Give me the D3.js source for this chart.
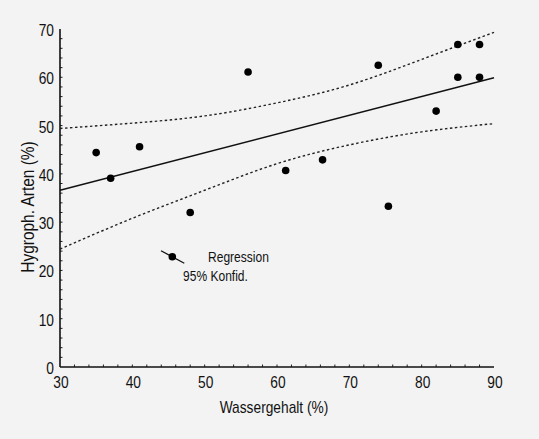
<!DOCTYPE html>
<html>
<head>
<meta charset="utf-8">
<script src="https://cdn.jsdelivr.net/npm/d3@7"></script>
<style>
  html, body { margin: 0; padding: 0; background: #f3f3f3; }
  svg { display: block; }
  text { font-family: "Liberation Sans", Arial, sans-serif; fill: #111; }
</style>
</head>
<body>
<script>
// measured points: water content vs. share of hygrophilous species
var waterContent = [35, 37, 41, 48, 56, 61.2, 66.3, 74, 75.4, 82, 85, 85, 88, 88];
var hygroSpecies = [44.4, 39.1, 45.6, 32.0, 61.1, 40.7, 42.9, 62.5, 33.3, 53.0, 66.8, 60.0, 66.8, 60.0];

// regression line (end points) and 95% confidence band
var regX = [30, 90];
var regY = [36.6, 59.9];
var bandX = [30, 40, 50, 60, 70, 80, 90];
var bandUpper = [49.4, 50.5, 52.0, 54.7, 58.4, 63.7, 69.3];
var bandLower = [24.4, 30.8, 36.6, 42.1, 46.0, 48.7, 50.4];

var xTicks = [30, 40, 50, 60, 70, 80, 90];
var yTicks = [0, 10, 20, 30, 40, 50, 60, 70];

var W = 539, H = 439;
var mLeft = 60, mRight = 494, mTop = 29, mBottom = 367;
var narrow = 0.86; // the original lettering is a condensed grotesque

var svg = d3.select("body").append("svg")
	.attr("width", W)
	.attr("height", H);

svg.append("rect").attr("width", W).attr("height", H).attr("fill", "#f3f3f3");

var x = d3.scaleLinear().domain([30, 90]).range([mLeft, mRight]);
var y = d3.scaleLinear().domain([0, 70]).range([mBottom, mTop]);

// condensed text helper
function label(px, py, txt, size, anchor, rot) {
	var g = svg.append("g")
		.attr("transform", "translate(" + px + "," + py + ")" + (rot ? " rotate(" + rot + ")" : "") + " scale(" + narrow + ",1)");
	g.append("text")
		.attr("text-anchor", anchor || "start")
		.attr("font-size", size)
		.text(txt);
	return g;
}

// minor ticks every 2 units, pointing inwards
var xMinor = d3.range(32, 90, 2);
var yMinor = d3.range(2, 70, 2);
svg.selectAll("line.xminor")
	.data(xMinor)
	.enter().append("line")
	.attr("x1", function(d){ return x(d); })
	.attr("x2", function(d){ return x(d); })
	.attr("y1", mBottom)
	.attr("y2", mBottom - 2.5)
	.attr("stroke", "#222").attr("stroke-width", 1);
svg.selectAll("line.yminor")
	.data(yMinor)
	.enter().append("line")
	.attr("x1", mLeft)
	.attr("x2", mLeft + 2.5)
	.attr("y1", function(d){ return y(d); })
	.attr("y2", function(d){ return y(d); })
	.attr("stroke", "#222").attr("stroke-width", 1);

// axes lines
svg.append("line").attr("x1", mLeft).attr("x2", mLeft).attr("y1", mTop).attr("y2", mBottom)
	.attr("stroke", "#111").attr("stroke-width", 1.6);
svg.append("line").attr("x1", mLeft).attr("x2", mRight).attr("y1", mBottom).attr("y2", mBottom)
	.attr("stroke", "#111").attr("stroke-width", 1.6);

// tick labels
xTicks.forEach(function(d){ label(x(d) + 1, mBottom + 21, d, 16, "middle"); });
yTicks.forEach(function(d){ label(mLeft - 6, y(d) + 7, d, 16, "end"); });

// axis titles
label(274, 413, "Wassergehalt (%)", 16, "middle");
label(34, 207, "Hygroph. Arten (%)", 18, "middle", -90);

// confidence band
var band = d3.line().curve(d3.curveNatural)
	.x(function(d){ return x(d[0]); })
	.y(function(d){ return y(d[1]); });
[bandUpper, bandLower].forEach(function(vals){
	svg.append("path")
		.datum(bandX.map(function(v, i){ return [v, vals[i]]; }))
		.attr("d", band)
		.attr("fill", "none")
		.attr("stroke", "#222")
		.attr("stroke-width", 1.4)
		.attr("stroke-dasharray", "2.5,2.5");
});

// regression
svg.append("line")
	.attr("x1", x(regX[0])).attr("y1", y(regY[0]))
	.attr("x2", x(regX[1])).attr("y2", y(regY[1]))
	.attr("stroke", "#111").attr("stroke-width", 1.4);

// points
svg.selectAll("circle.pt")
	.data(waterContent)
	.enter().append("circle")
	.attr("cx", function(d){ return x(d); })
	.attr("cy", function(d, i){ return y(hygroSpecies[i]); })
	.attr("r", 3.8)
	.attr("fill", "#000");

// legend
svg.append("line").attr("x1", 161).attr("y1", 250.7).attr("x2", 184.3).attr("y2", 263.3)
	.attr("stroke", "#111").attr("stroke-width", 1.3);
svg.append("circle").attr("cx", 172.3).attr("cy", 256.7).attr("r", 3.8).attr("fill", "#000");
label(208, 262, "Regression", 14);
label(183, 281, "95% Konfid.", 14);
</script>
</body>
</html>
